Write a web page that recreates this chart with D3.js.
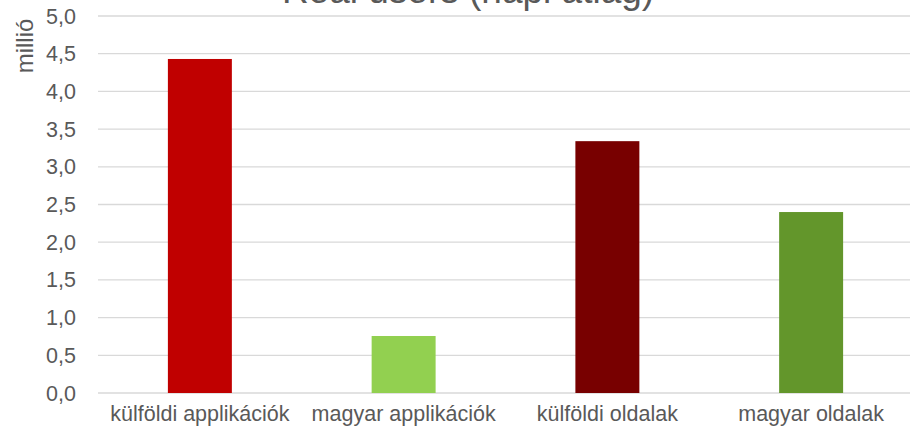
<!DOCTYPE html>
<html>
<head>
<meta charset="utf-8">
<script src="https://cdn.jsdelivr.net/npm/d3@7"></script>
<style>
  body { margin: 0; background: #fff; }
  svg { display: block; font-family: "Liberation Sans", Arial, sans-serif; }
</style>
</head>
<body>
<svg id="chart" width="910" height="426"></svg>
<script>
// chart data
var categories = ["külföldi applikációk", "magyar applikációk", "külföldi oldalak", "magyar oldalak"];
var values = [4.43, 0.756, 3.34, 2.40];
var barColors = ["#C00000", "#92D050", "#780000", "#63962B"];
var yTicks = [0, 0.5, 1, 1.5, 2, 2.5, 3, 3.5, 4, 4.5, 5];
var titleText = "Real users (napi átlag)";
var yLabel = "millió";

var svg = d3.select("#chart");

// plot area
var plotLeft = 98, plotRight = 913, plotTop = 16, plotBottom = 393;

var x = d3.scaleBand()
    .domain(categories)
    .range([plotLeft, plotRight])
    .paddingInner(0.686)
    .paddingOuter(0.343);

var y = d3.scaleLinear().domain([0, 5]).range([plotBottom, plotTop]);

// gridlines
svg.append("g")
    .selectAll("line")
    .data(yTicks)
    .join("line")
    .attr("x1", plotLeft)
    .attr("x2", 910)
    .attr("y1", d => y(d))
    .attr("y2", d => y(d))
    .attr("stroke", "#d9d9d9")
    .attr("stroke-width", 1.3);

// y tick labels
var fmt = d => d.toFixed(1).replace(".", ",");
svg.append("g")
    .selectAll("text")
    .data(yTicks)
    .join("text")
    .attr("x", 76)
    .attr("y", d => y(d))
    .attr("dy", "0.35em")
    .attr("text-anchor", "end")
    .attr("font-size", 21.5)
    .attr("fill", "#595959")
    .text(fmt);

// bars
svg.append("g")
    .selectAll("rect")
    .data(values)
    .join("rect")
    .attr("x", (d, i) => x(categories[i]))
    .attr("y", d => y(d))
    .attr("width", x.bandwidth())
    .attr("height", d => y(0) - y(d))
    .attr("fill", (d, i) => barColors[i]);

// x labels
svg.append("g")
    .selectAll("text")
    .data(categories)
    .join("text")
    .attr("x", d => x(d) + x.bandwidth() / 2)
    .attr("y", 421)
    .attr("text-anchor", "middle")
    .attr("font-size", 21.5)
    .attr("fill", "#595959")
    .text(d => d);

// y axis label
svg.append("text")
    .attr("transform", "translate(33,46) rotate(-90)")
    .attr("text-anchor", "middle")
    .attr("font-size", 24)
    .attr("fill", "#595959")
    .text(yLabel);

// title, partly cut off at the top
svg.append("text")
    .attr("x", 468)
    .attr("y", 3)
    .attr("text-anchor", "middle")
    .attr("font-size", 37)
    .attr("fill", "#595959")
    .text(titleText);
</script>
</body>
</html>
